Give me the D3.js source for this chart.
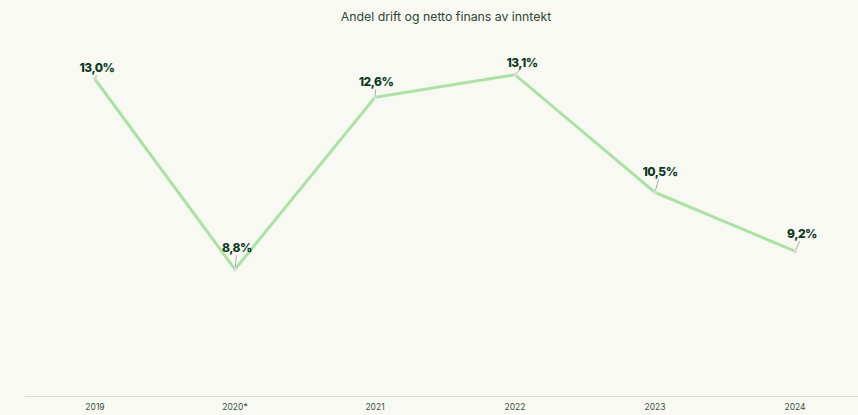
<!DOCTYPE html>
<html>
<head>
<meta charset="UTF-8">
<script src="https://cdn.jsdelivr.net/npm/d3@7"></script>
<style>
  body { margin: 0; background: #f8f9f2; }
  svg text { font-family: Inter, "Noto Sans", sans-serif; }
  .title { font-size: 12.3px; fill: #2c4634; }
  .axis path, .axis line { stroke: #dcdcd6; }
  .axis text { font-size: 8.5px; fill: #3b4f41; }
  .line { fill: none; stroke: #a9e3a1; stroke-width: 3; }
  .lbl { font-size: 12px; font-weight: 800; fill: #0c3a22; letter-spacing: -0.5px; }
  .leader { stroke: #a8b0aa; stroke-width: 1; }
</style>
</head>
<body>
<svg></svg>
<script>
var years = ['2019', '2020*', '2021', '2022', '2023', '2024'];
var shares = [13.0, 8.8, 12.6, 13.1, 10.5, 9.2];
var title = 'Andel drift og netto finans av inntekt';

// label offsets from each point [dx, dy] (layout only)
var labelOffsets = [[2, -7], [2, -17], [1, -11], [7, -8], [5, -16], [7, -13]];

var width = 858, height = 415;
var margin = { top: 34, right: -7, bottom: 19, left: 25 };

var svg = d3.select('svg').attr('width', width).attr('height', height);

var x = d3.scaleBand()
  .domain(years)
  .range([margin.left, width - margin.right]);

var y = d3.scaleLinear()
  .domain([6, 14])
  .range([height - margin.bottom, margin.top]);

var fmt = function(v) { return d3.format('.1f')(v).replace('.', ',') + '%'; };
var cx = function(d, i) { return x(years[i]) + x.bandwidth() / 2; };

svg.append('text')
  .attr('class', 'title')
  .attr('x', 446)
  .attr('y', 21)
  .attr('text-anchor', 'middle')
  .text(title);

svg.append('g')
  .attr('class', 'axis')
  .attr('transform', 'translate(0,' + (height - margin.bottom) + ')')
  .call(d3.axisBottom(x).tickSize(0).tickPadding(8));

var line = d3.line()
  .x(cx)
  .y(function(d) { return y(d); });

svg.append('path')
  .datum(shares)
  .attr('class', 'line')
  .attr('d', line);

var pts = svg.selectAll('.pt')
  .data(shares)
  .enter().append('g')
  .attr('class', 'pt');

pts.append('line')
  .attr('class', 'leader')
  .attr('x1', cx)
  .attr('y1', function(d) { return y(d); })
  .attr('x2', function(d, i) { return cx(d, i) + labelOffsets[i][0] * 0.7; })
  .attr('y2', function(d, i) { return y(d) + labelOffsets[i][1] + 3; });

pts.append('circle')
  .attr('cx', cx)
  .attr('cy', function(d) { return y(d); })
  .attr('r', 2)
  .attr('fill', '#d3dcd5');

pts.append('text')
  .attr('class', 'lbl')
  .attr('x', function(d, i) { return cx(d, i) + labelOffsets[i][0]; })
  .attr('y', function(d, i) { return y(d) + labelOffsets[i][1]; })
  .attr('text-anchor', 'middle')
  .text(fmt);
</script>
</body>
</html>
